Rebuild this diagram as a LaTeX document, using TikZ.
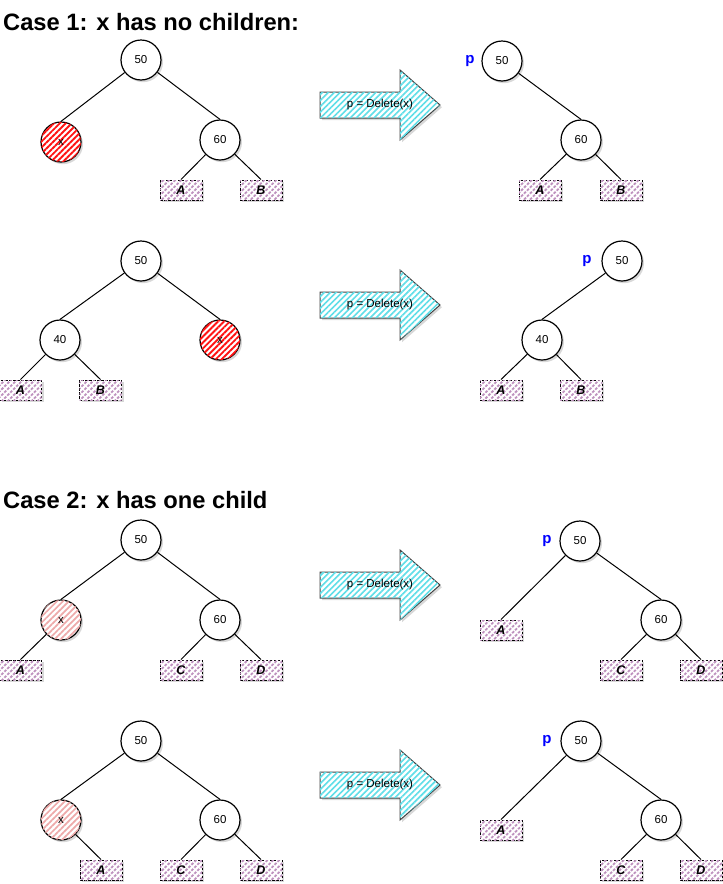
\documentclass[tikz,border=0pt]{standalone}
\usepackage{fontspec}
\setmainfont{Liberation Sans}
\usetikzlibrary{patterns.meta,shadows}
\definecolor{xred}{RGB}{255,20,20}
\definecolor{xpink}{RGB}{238,170,170}
\definecolor{leafc}{RGB}{190,145,190}
\definecolor{arrc}{RGB}{95,222,232}
\definecolor{pblue}{RGB}{0,0,255}
\tikzset{
  shad/.style={drop shadow={shadow xshift=2pt, shadow yshift=-2.2pt, fill=black!30}},
  tn/.style={circle, draw=black, line width=1.2pt, fill=white, minimum size=40pt, inner sep=0pt,
     font=\fontsize{11.5}{12}\selectfont, shad},
  xr/.style={tn, postaction={pattern={Lines[angle=45,distance=4.2pt,line width=1.9pt]}, pattern color=xred}},
  xp/.style={tn, postaction={pattern={Lines[angle=45,distance=4.2pt,line width=1.7pt]}, pattern color=xpink}},
  leaf/.style={rectangle, draw=black, dash pattern=on 2.5pt off 1.5pt, line width=1pt, fill=white, minimum width=42pt, minimum height=20pt,
     inner sep=0pt, font=\fontsize{12.5}{13}\selectfont\bfseries\itshape, shad,
     postaction={pattern={Lines[angle=45,distance=4.2pt,line width=1.8pt]}, pattern color=leafc}},
  edge/.style={draw=black, line width=1pt},
  plab/.style={text=pblue, font=\fontsize{15}{16}\selectfont\bfseries, inner sep=0pt},
  ttl/.style={anchor=base west, inner sep=0pt, font=\fontsize{23.7}{26}\selectfont\bfseries},
  arrst/.style={draw=black!75, line width=1pt, fill=white, shad,
     postaction={pattern={Lines[angle=45,distance=4.2pt,line width=1.6pt]}, pattern color=arrc}},
  arrtxt/.style={font=\fontsize{11.5}{12}\selectfont, inner sep=0pt},
}
\newcommand\delarrow[2]{%
  \draw[arrst] (320,#2-13) -- (400,#2-13) -- (400,#2-35) -- (440,#2) -- (400,#2+35) -- (400,#2+13) -- (320,#2+13) -- cycle;
  \node[arrtxt] (#1) at (380,#2) {p = Delete(x)};}
\begin{document}
\begin{tikzpicture}[x=1pt,y=-1pt]
\useasboundingbox (0,0) rectangle (723,884);
% titles
\node[ttl] (t1) at (3,30) {Case 1: x has no children:};
\node[ttl] (t2) at (3,508) {Case 2: x has one child};
% arrows
\delarrow{d1}{105}
\delarrow{d2}{305}
\delarrow{d3}{585}
\delarrow{d4}{785}
% ---- Tree 1 left
\node[tn] (r1) at (141,60) {50};
\node[xr] (x1) at (61,142) {x};
\node[tn] (n1) at (220,140) {60};
\node[leaf] (a1) at (181,190) {A};
\node[leaf] (b1) at (261,190) {B};
\draw[edge] (r1) -- (x1.north);
\draw[edge] (r1) -- (n1.north);
\draw[edge] (n1) -- (a1.north);
\draw[edge] (n1) -- (b1.north);
% ---- Tree 1 right
\node[plab] (p1) at (470,61) {p};
\node[tn] (R1) at (502,61) {50};
\node[tn] (N1) at (581,140) {60};
\node[leaf] (A1) at (540,190) {A};
\node[leaf] (B1) at (621,190) {B};
\draw[edge] (R1) -- (N1.north);
\draw[edge] (N1) -- (A1.north);
\draw[edge] (N1) -- (B1.north);
% ---- Tree 2 left
\node[tn] (r2) at (141,261) {50};
\node[tn] (f2) at (60,340) {40};
\node[xr] (x2) at (220,340) {x};
\node[leaf] (a2) at (20.5,390) {A};
\node[leaf] (b2) at (100.5,390) {B};
\draw[edge] (r2) -- (f2.north);
\draw[edge] (r2) -- (x2.north);
\draw[edge] (f2) -- (a2.north);
\draw[edge] (f2) -- (b2.north);
% ---- Tree 2 right
\node[plab] (p2) at (587,261) {p};
\node[tn] (R2) at (622,261) {50};
\node[tn] (F2) at (542,340) {40};
\node[leaf] (A2) at (501,390) {A};
\node[leaf] (B2) at (581,390) {B};
\draw[edge] (R2) -- (F2.north);
\draw[edge] (F2) -- (A2.north);
\draw[edge] (F2) -- (B2.north);
% ---- Tree 3 left
\node[tn] (r3) at (141,540) {50};
\node[xp] (x3) at (61,620) {x};
\node[tn] (n3) at (220,620) {60};
\node[leaf] (a3) at (20.5,670) {A};
\node[leaf] (c3) at (181,670) {C};
\node[leaf] (e3) at (261,670) {D};
\draw[edge] (r3) -- (x3.north);
\draw[edge] (r3) -- (n3.north);
\draw[edge] (x3) -- (a3.north);
\draw[edge] (n3) -- (c3.north);
\draw[edge] (n3) -- (e3.north);
% ---- Tree 3 right
\node[plab] (p3) at (547,541) {p};
\node[tn] (R3) at (580,541) {50};
\node[leaf] (A3) at (501,630) {A};
\node[tn] (N3) at (661,620) {60};
\node[leaf] (C3) at (621,670) {C};
\node[leaf] (E3) at (701,670) {D};
\draw[edge] (R3) -- (A3.north);
\draw[edge] (R3) -- (N3.north);
\draw[edge] (N3) -- (C3.north);
\draw[edge] (N3) -- (E3.north);
% ---- Tree 4 left
\node[tn] (r4) at (141,741) {50};
\node[xp] (x4) at (61,820) {x};
\node[tn] (n4) at (220,820) {60};
\node[leaf] (a4) at (101,870) {A};
\node[leaf] (c4) at (181,870) {C};
\node[leaf] (e4) at (261,870) {D};
\draw[edge] (r4) -- (x4.north);
\draw[edge] (r4) -- (n4.north);
\draw[edge] (x4) -- (a4.north);
\draw[edge] (n4) -- (c4.north);
\draw[edge] (n4) -- (e4.north);
% ---- Tree 4 right
\node[plab] (p4) at (547,741) {p};
\node[tn] (R4) at (581,741) {50};
\node[leaf] (A4) at (501,830) {A};
\node[tn] (N4) at (661,820) {60};
\node[leaf] (C4) at (621,870) {C};
\node[leaf] (E4) at (701,870) {D};
\draw[edge] (R4) -- (A4.north);
\draw[edge] (R4) -- (N4.north);
\draw[edge] (N4) -- (C4.north);
\draw[edge] (N4) -- (E4.north);
\end{tikzpicture}
\end{document}
